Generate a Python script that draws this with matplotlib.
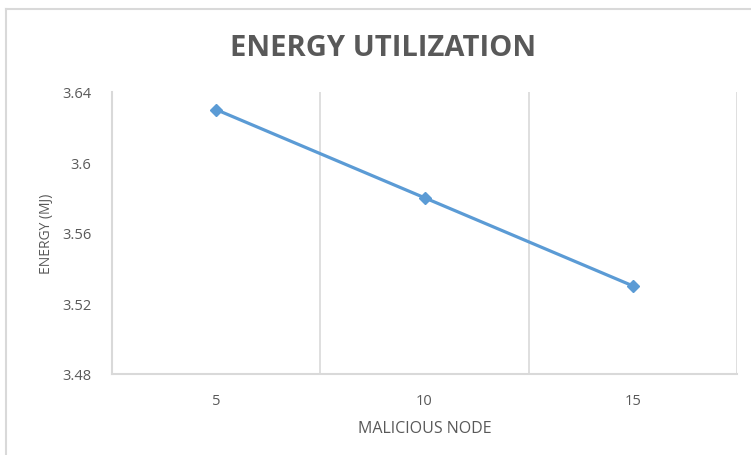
import matplotlib.pyplot as plt
from matplotlib.lines import Line2D

plt.rcParams["font.family"] = "sans-serif"
plt.rcParams["font.sans-serif"] = ["Open Sans", "DejaVu Sans"]

nodes = ["5", "10", "15"]
energy = [3.63, 3.58, 3.53]
yticks = [3.48, 3.52, 3.56, 3.60, 3.64]
ytick_labels = ["3.48", "3.52", "3.56", "3.6", "3.64"]

W, H = 751, 456
fig = plt.figure(figsize=(W / 100, H / 100), dpi=100)
ax = fig.add_axes([112 / W, 1 - 375 / H, (737 - 112) / W, (375 - 93) / H])

grid_c = "#d9d9d9"
text_c = "#595959"

# outer chart border (only top and left visible)
fig.add_artist(Line2D([6 / W, 1], [1 - 10 / H, 1 - 10 / H], color=grid_c, lw=1.5,
                      transform=fig.transFigure))
fig.add_artist(Line2D([6 / W, 6 / W], [0, 1 - 10 / H], color=grid_c, lw=1.5,
                      transform=fig.transFigure))

x = list(range(len(nodes)))
ax.plot(x, energy, color="#5b9bd5", lw=2.3, marker="D", ms=6.5, zorder=3)

ax.set_xlim(-0.5, len(nodes) - 0.5)
ax.set_ylim(3.48, 3.64)
ax.set_xticks(x)
ax.set_xticklabels(nodes)
ax.set_yticks(yticks)
ax.set_yticklabels(ytick_labels)

for b in [0.5, 1.5, 2.5]:
    ax.axvline(b, color=grid_c, lw=1.2, zorder=1)

for s in ["top", "right"]:
    ax.spines[s].set_visible(False)
for s in ["left", "bottom"]:
    ax.spines[s].set_color(grid_c)
    ax.spines[s].set_linewidth(1.5)

ax.tick_params(axis="both", length=0, labelsize=10.5, colors=text_c)
ax.tick_params(axis="y", pad=15)
ax.tick_params(axis="x", pad=14)

ax.set_xlabel("MALICIOUS NODE", fontsize=11.5, color=text_c, labelpad=8)
ax.set_ylabel("ENERGY (MJ)", fontsize=10, color=text_c, labelpad=6)

fig.text(383 / W, 1 - 48 / H, "ENERGY UTILIZATION", ha="center", va="center",
         fontsize=21, fontweight="bold", color=text_c)

fig.savefig("out.png", dpi=100, facecolor="white")
